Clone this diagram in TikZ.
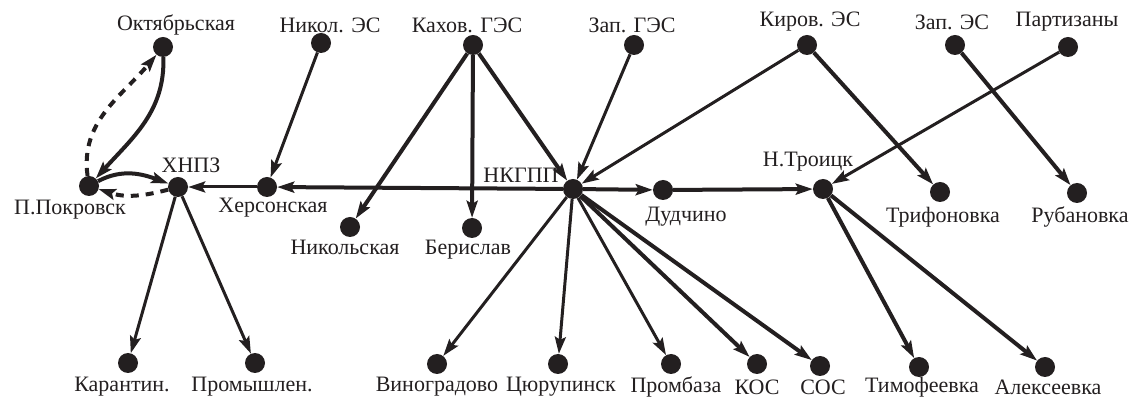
\documentclass[tikz,border=0pt]{standalone}
\usepackage{fontspec}
\setmainfont{Liberation Serif}
\usetikzlibrary{arrows.meta}
\definecolor{ink}{HTML}{231F20}
\begin{document}
\begin{tikzpicture}[x=1pt,y=1pt,
  dot/.style={circle,fill=ink,inner sep=0pt,minimum size=20pt},
  lbl/.style={font=\fontsize{22}{24}\selectfont, text=ink, inner sep=0pt},
  con/.style={draw=ink, line width=3pt, -{Stealth[length=17pt,width=11pt,inset=3pt]}},
  heavy/.style={con, line width=4pt},
  dsh/.style={heavy, dash pattern=on 8pt off 7pt}]
\useasboundingbox (0,0) rectangle (1134,401);
% dots
\node[dot] (oct) at (163,354) {};
\node[dot] (nikes) at (321,358) {};
\node[dot] (kahov) at (473,356) {};
\node[dot] (zapges) at (634,356) {};
\node[dot] (kirov) at (807,356) {};
\node[dot] (zapes) at (955,356) {};
\node[dot] (part) at (1068,354) {};
\node[dot] (pok) at (89,215) {};
\node[dot] (hnpz) at (178,214) {};
\node[dot] (hers) at (267,214) {};
\node[dot] (nikol) at (350,174) {};
\node[dot] (beris) at (472,173) {};
\node[dot] (nkgpp) at (573,212) {};
\node[dot] (dud) at (663,211) {};
\node[dot] (troi) at (823,212) {};
\node[dot] (trif) at (940,209) {};
\node[dot] (ruban) at (1077,208) {};
\node[dot] (karan) at (128,38) {};
\node[dot] (prom) at (255,38) {};
\node[dot] (vino) at (437,37) {};
\node[dot] (tsyu) at (558,37) {};
\node[dot] (pbaza) at (671,37) {};
\node[dot] (kos) at (757,37) {};
\node[dot] (sos) at (820,35) {};
\node[dot] (timo) at (919,34) {};
\node[dot] (alek) at (1045,34) {};
% labels
\node[lbl] (Loct) at (176,376) {Октябрьская};
\node[lbl] (Lnikes) at (330,376) {Никол. ЭС};
\node[lbl] (Lkahov) at (467,376) {Кахов. ГЭС};
\node[lbl] (Lzapges) at (632,376) {Зап. ГЭС};
\node[lbl] (Lkirov) at (810,379) {Киров. ЭС};
\node[lbl] (Lzapes) at (952,379) {Зап. ЭС};
\node[lbl] (Lpart) at (1067,379) {Партизаны};
\node[lbl] (Lhnpz) at (191,236) {ХНПЗ};
\node[lbl] (Lpok) at (70,191) {П.Покровск};
\node[lbl] (Lhers) at (273,193) {Херсонская};
\node[lbl] (Lnikol) at (345,154) {Никольская};
\node[lbl] (Lberis) at (468,151) {Берислав};
\node[lbl] (Lnkgpp) at (521,226) {НКГПП};
\node[lbl] (Ldud) at (686,184) {Дудчино};
\node[lbl] (Ltroi) at (808,239) {Н.Троицк};
\node[lbl] (Ltrif) at (943,184) {Трифоновка};
\node[lbl] (Lruban) at (1080,184) {Рубановка};
\node[lbl] (Lkaran) at (122,14) {Карантин.};
\node[lbl] (Lprom) at (252,14) {Промышлен.};
\node[lbl] (Lvino) at (437,14) {Виноградово};
\node[lbl] (Ltsyu) at (561,14) {Цюрупинск};
\node[lbl] (Lpbaza) at (676,14) {Промбаза};
\node[lbl] (Lkos) at (757,14) {КОС};
\node[lbl] (Lsos) at (823,14) {СОС};
\node[lbl] (Ltimo) at (922,14) {Тимофеевка};
\node[lbl] (Lalek) at (1048,14) {Алексеевка};
% connectors
\draw[heavy] (oct) to[out=-88,in=48] (pok);
\draw[dsh] (pok) to[out=98,in=-130] (oct);
\draw[heavy] (pok) to[out=28,in=160] (hnpz);
\draw[dsh] (hnpz) to[out=-165,in=-18] (pok);
\draw[con] (hers) -- (hnpz);
\draw[heavy] (nkgpp) -- (hers);
\draw[con] (nikes) -- (hers);
\draw[heavy] (kahov) -- (nikol);
\draw[heavy] (kahov) -- (beris);
\draw[heavy] (kahov) -- (nkgpp);
\draw[con] (zapges) -- (nkgpp);
\draw[con] (kirov) -- (nkgpp);
\draw[heavy] (kirov) -- (trif);
\draw[heavy] (zapes) -- (ruban);
\draw[con] (part) -- (troi);
\draw[heavy] (nkgpp) -- (dud);
\draw[heavy] (dud) -- (troi);
\draw[con] (hnpz) -- (karan);
\draw[con] (hnpz) -- (prom);
\draw[con] (nkgpp) -- (vino);
\draw[con] (nkgpp) -- (tsyu);
\draw[con] (nkgpp) -- (pbaza);
\draw[heavy] (nkgpp) -- (kos);
\draw[heavy] (nkgpp) -- (sos);
\draw[heavy] (troi) -- (timo);
\draw[heavy] (troi) -- (alek);
\end{tikzpicture}
\end{document}
